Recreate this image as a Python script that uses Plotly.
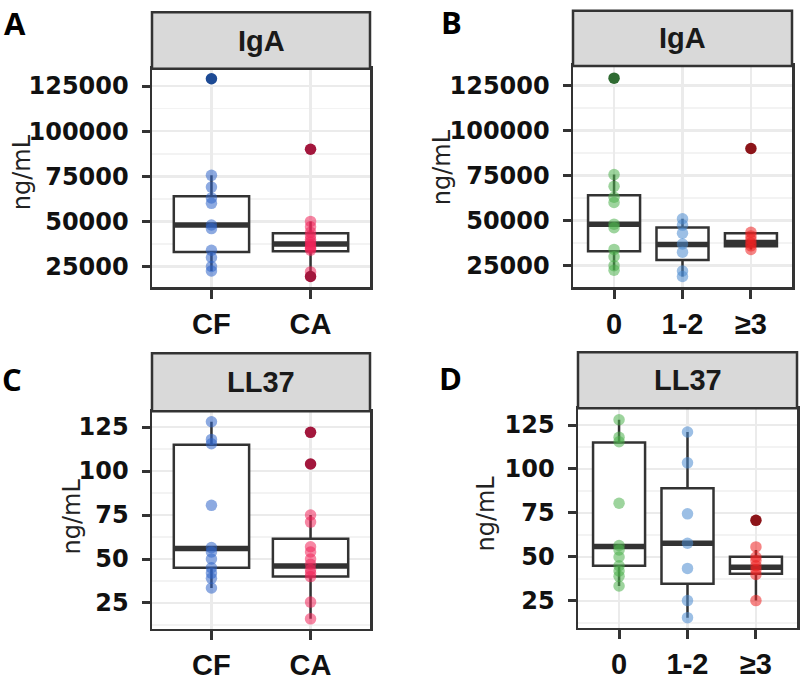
import plotly.graph_objects as go

W, H = 800, 681

# ---------------- data ----------------
CAT_AB = ["CF", "CA"]
CAT_N = ["0", "1-2", "≥3"]

# IgA (ng/mL)
IGA_CF_PTS = [75500, 69000, 63000, 60000, 48000, 46000, 34000, 30000, 25000, 22500]
IGA_CF_OUT = [129000]
IGA_CF_BOX = dict(q1=33000, median=48000, q3=64000, lo=22500, hi=75500)

IGA_CA_PTS = [50000, 47000, 44000, 42000, 40000, 38500, 37000, 36000, 35000, 34000, 22000]
IGA_CA_OUT = [90000, 19500]
IGA_CA_BOX = dict(q1=33500, median=37500, q3=43500, lo=22000, hi=50000)

IGA_0_PTS = IGA_CF_PTS
IGA_0_OUT = IGA_CF_OUT
IGA_0_BOX = IGA_CF_BOX

IGA_12_PTS = [51000, 47500, 43000, 37000, 32500, 22000, 19000]
IGA_12_OUT = []
IGA_12_BOX = dict(q1=28200, median=36800, q3=46200, lo=19000, hi=51000)

IGA_3_PTS = [43500, 41500, 39500, 37500, 36000, 34000]
IGA_3_OUT = [90000]
IGA_3_BOX = dict(q1=35800, median=37800, q3=43000, lo=34000, hi=43500)

# LL37 (ng/mL)
LL_CF_PTS = [128, 118, 115.5, 80.5, 56.5, 54, 50, 45, 42, 39, 33.5]
LL_CF_OUT = []
LL_CF_BOX = dict(q1=45, median=56, q3=115, lo=33.5, hi=128)

LL_CA_PTS = [75, 71, 57, 54, 50, 47, 44, 42, 40, 25.5, 16]
LL_CA_OUT = [122, 104]
LL_CA_BOX = dict(q1=40, median=46, q3=61.5, lo=16, hi=75)

LL_0_PTS = LL_CF_PTS
LL_0_OUT = LL_CF_OUT
LL_0_BOX = LL_CF_BOX

LL_12_PTS = [121, 103.5, 74.5, 57.8, 43.5, 25.2, 15.5]
LL_12_OUT = []
LL_12_BOX = dict(q1=34.8, median=57.8, q3=89, lo=15.5, hi=121)

LL_3_PTS = [55.7, 50, 48, 45, 42.7, 40, 25.2]
LL_3_OUT = [70.8]
LL_3_BOX = dict(q1=40.5, median=44.2, q3=50.1, lo=25.2, hi=54)

# colours: (point colour, outlier colour)
COL_CF = ("#2F64C8", "#1D4A94")
COL_CA = ("#F0245A", "#A3173D")
COL_0 = ("#4DB04D", "#2F6B32")
COL_12 = ("#4A8AD0", "#2A5E9E")
COL_3 = ("#EE2020", "#8C1419")

IGA_TICKS = [25000, 50000, 75000, 100000, 125000]
LL_TICKS = [25, 50, 75, 100, 125]

# ---------------- layout helpers ----------------
def px_x(x):
    return x / W

def px_y(y):
    return 1 - y / H

# panel pixel boxes: (left, right, strip_top, strip_bottom/plot_top, plot_bottom)
PANELS = {
    "A": (152, 370, 12.5, 70, 292),
    "B": (573, 792, 11, 67, 292),
    "C": (152, 370, 359, 418, 639),
    "D": (578, 797, 358, 415, 638),
}

BOXW = 0.76
LINE = "#333333"

fig = go.Figure()

def add_group(ax_suffix, pos, pts, outl, box, cols):
    xa = "x" + ax_suffix
    ya = "y" + ax_suffix
    fig.add_trace(go.Box(
        x=[pos], q1=[box["q1"]], median=[box["median"]], q3=[box["q3"]],
        lowerfence=[box["lo"]], upperfence=[box["hi"]],
        width=BOXW, fillcolor="white", line=dict(color=LINE, width=2.5),
        whiskerwidth=0, boxpoints=False, xaxis=xa, yaxis=ya,
        showlegend=False, hoverinfo="skip"))
    fig.add_trace(go.Scatter(
        x=[pos - BOXW / 2, pos + BOXW / 2], y=[box["median"], box["median"]],
        mode="lines", line=dict(color=LINE, width=5.5), xaxis=xa, yaxis=ya,
        showlegend=False, hoverinfo="skip"))
    fig.add_trace(go.Scatter(
        x=[pos] * len(pts), y=pts, mode="markers",
        marker=dict(color=cols[0], size=11.5, opacity=0.55, line=dict(width=0)),
        xaxis=xa, yaxis=ya, showlegend=False))
    if outl:
        fig.add_trace(go.Scatter(
            x=[pos] * len(outl), y=outl, mode="markers",
            marker=dict(color=cols[1], size=11.5, line=dict(width=0)),
            xaxis=xa, yaxis=ya, showlegend=False))

add_group("", 0, IGA_CF_PTS, IGA_CF_OUT, IGA_CF_BOX, COL_CF)
add_group("", 1, IGA_CA_PTS, IGA_CA_OUT, IGA_CA_BOX, COL_CA)
add_group("2", 0, IGA_0_PTS, IGA_0_OUT, IGA_0_BOX, COL_0)
add_group("2", 1, IGA_12_PTS, IGA_12_OUT, IGA_12_BOX, COL_12)
add_group("2", 2, IGA_3_PTS, IGA_3_OUT, IGA_3_BOX, COL_3)
add_group("3", 0, LL_CF_PTS, LL_CF_OUT, LL_CF_BOX, COL_CF)
add_group("3", 1, LL_CA_PTS, LL_CA_OUT, LL_CA_BOX, COL_CA)
add_group("4", 0, LL_0_PTS, LL_0_OUT, LL_0_BOX, COL_0)
add_group("4", 1, LL_12_PTS, LL_12_OUT, LL_12_BOX, COL_12)
add_group("4", 2, LL_3_PTS, LL_3_OUT, LL_3_BOX, COL_3)

YTICKFONT = dict(family="DejaVu Sans", size=24, color="#111111", weight="bold")
XTICKFONT = dict(family="Liberation Sans", size=29, color="#111111", weight="bold")

def xaxis(panel, cats):
    l, r, st, pt, pb = PANELS[panel]
    return dict(domain=[px_x(l), px_x(r)], range=[-0.6, len(cats) - 1 + 0.6],
                tickmode="array", tickvals=list(range(len(cats))), ticktext=cats,
                showgrid=True, gridcolor="#EBEBEB", gridwidth=2.5,
                showline=True, mirror=True, linecolor=LINE, linewidth=2.5,
                ticks="outside", ticklen=9, tickwidth=3, tickcolor=LINE,
                tickfont=XTICKFONT, zeroline=False, fixedrange=True)

def yaxis(panel, rng, ticks, xanchor):
    l, r, st, pt, pb = PANELS[panel]
    step = ticks[1] - ticks[0]
    return dict(domain=[px_y(pb), px_y(pt)], range=rng, anchor=xanchor,
                tickmode="array", tickvals=ticks, ticktext=[str(t) for t in ticks],
                showgrid=True, gridcolor="#EBEBEB", gridwidth=2.5,
                minor=dict(showgrid=True, gridcolor="#F3F3F3", gridwidth=1.8,
                           tick0=0, dtick=step / 2, ticks=""),
                showline=True, mirror=True, linecolor=LINE, linewidth=2.5,
                ticks="outside", ticklen=8, tickwidth=3, tickcolor=LINE,
                tickfont=YTICKFONT, zeroline=False, fixedrange=True,
                ticklabelstandoff=8)

fig.update_layout(
    width=W, height=H, margin=dict(l=0, r=0, t=0, b=0),
    paper_bgcolor="white", plot_bgcolor="white", showlegend=False,
    boxmode="overlay",
    xaxis=dict(xaxis("A", CAT_AB), anchor="y"),
    yaxis=yaxis("A", [13500, 134500], IGA_TICKS, "x"),
    xaxis2=dict(xaxis("B", CAT_N), anchor="y2"),
    yaxis2=yaxis("B", [13000, 135800], IGA_TICKS, "x2"),
    xaxis3=dict(xaxis("C", CAT_AB), anchor="y3"),
    yaxis3=yaxis("C", [10.4, 134], LL_TICKS, "x3"),
    xaxis4=dict(xaxis("D", CAT_N), anchor="y4"),
    yaxis4=yaxis("D", [9.8, 134.5], LL_TICKS, "x4"),
)

shapes = []
annotations = []
STRIP_LABELS = {"A": "IgA", "B": "IgA", "C": "LL37", "D": "LL37"}
for p, (l, r, st, pt, pb) in PANELS.items():
    shapes.append(dict(type="rect", xref="paper", yref="paper",
                       x0=px_x(l), x1=px_x(r), y0=px_y(pt), y1=px_y(st),
                       fillcolor="#D9D9D9", line=dict(color=LINE, width=2.5)))
    annotations.append(dict(text=STRIP_LABELS[p], xref="paper", yref="paper",
                            x=px_x((l + r) / 2), y=px_y((st + pt) / 2),
                            xanchor="center", yanchor="middle", showarrow=False,
                            font=dict(family="Liberation Sans", size=29,
                                      color="#1A1A1A", weight="bold")))

# y-axis titles
YTITLE_POS = {"A": (22, 175), "B": (442, 170), "C": (72, 525), "D": (486, 522)}
for p, (x, y) in YTITLE_POS.items():
    annotations.append(dict(text="ng/mL", xref="paper", yref="paper",
                            x=px_x(x), y=px_y(y), xanchor="center", yanchor="middle",
                            textangle=-90, showarrow=False,
                            font=dict(family="DejaVu Sans", size=24, color="#222222")))

# panel letters
LETTER_POS = {"A": (15, 23.5), "B": (451, 22.5), "C": (12, 385), "D": (450, 384)}
for p, (x, y) in LETTER_POS.items():
    annotations.append(dict(text=p, xref="paper", yref="paper",
                            x=px_x(x), y=px_y(y), xanchor="center", yanchor="middle",
                            showarrow=False,
                            font=dict(family="Open Sans", size=31, color="#000000",
                                      weight="bold")))

fig.update_layout(shapes=shapes, annotations=annotations)

fig.write_html("out.html",
               config={"displayModeBar": False, "staticPlot": True},
               post_script="document.body.style.margin='0';"
                           "document.body.style.overflow='hidden';")
